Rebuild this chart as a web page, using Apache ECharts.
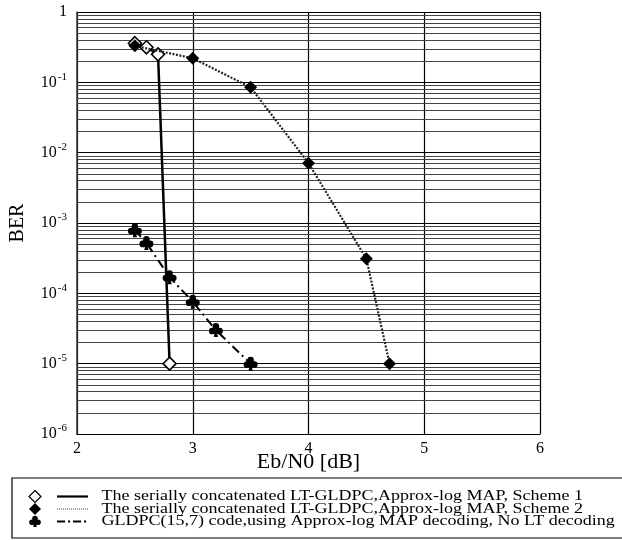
<!DOCTYPE html>
<html>
<head>
<meta charset="utf-8">
<script src="https://cdn.jsdelivr.net/npm/echarts@6/dist/echarts.min.js"></script>
<style>
  html, body { margin: 0; padding: 0; background: #fff; }
  #main { width: 622px; height: 540px; }
</style>
</head>
<body>
<div id="main"></div>
<script>
// data
const scheme1X = [2.5, 2.6, 2.7, 2.8]
const scheme1Y = [0.36, 0.315, 0.25, 1e-5]
const scheme2X = [2.5, 3.0, 3.5, 4.0, 4.5, 4.7]
const scheme2Y = [0.33, 0.22, 0.085, 0.0071, 3.1e-4, 1e-5]
const gldpcX = [2.5, 2.6, 2.8, 3.0, 3.2, 3.5]
const gldpcY = [7.9e-4, 5.2e-4, 1.7e-4, 7.6e-5, 3.0e-5, 1e-5]
const legendNames = [
    'The serially concatenated LT-GLDPC,Approx-log MAP, Scheme 1',
    'The serially concatenated LT-GLDPC,Approx-log MAP, Scheme 2',
    'GLDPC(15,7) code,using Approx-log MAP decoding, No LT decoding'
]
const decades = [-6, -5, -4, -3, -2, -1]
const minorSteps = [2, 3, 4, 5, 6, 7, 8, 9]

const FONT = '"Liberation Serif", "Times New Roman", serif'
const clubPath = 'path://M5.6,5.5a4.4,4.4 0 1,0 8.8,0a4.4,4.4 0 1,0 -8.8,0Z' +
    'M0.6,11.5a4.4,4.4 0 1,0 8.8,0a4.4,4.4 0 1,0 -8.8,0Z' +
    'M10.6,11.5a4.4,4.4 0 1,0 8.8,0a4.4,4.4 0 1,0 -8.8,0Z' +
    'M7,8L10,14L13,8Z' +
    'M9,11L7.2,19.5L12.8,19.5L11,11Z'

function zip(xs, ys) {
    return xs.map((x, i) => [x, ys[i]])
}

// minor horizontal grid lines (2..9 x 10^k), placed through the log axis
const minorLines = []
decades.forEach(e => {
    minorSteps.forEach(m => {
        minorLines.push({ yAxis: m * Math.pow(10, e) })
    })
})

// #region legend box
function legendGraphics() {
    const rowY = [496.5, 509, 521.5]
    const items = [
        { type: 'rect', shape: { x: 12, y: 478, width: 620, height: 60 },
          style: { fill: 'none', stroke: '#000', lineWidth: 1.2 } }
    ]
    // markers
    items.push({ type: 'polygon', shape: { points: [[35, rowY[0] - 6], [41, rowY[0]], [35, rowY[0] + 6], [29, rowY[0]]] },
        style: { fill: '#fff', stroke: '#000', lineWidth: 1.2 } })
    items.push({ type: 'polygon', shape: { points: [[35, rowY[1] - 6], [41, rowY[1]], [35, rowY[1] + 6], [29, rowY[1]]] },
        style: { fill: '#000' } })
    const cy = rowY[2]
    items.push({ type: 'circle', shape: { cx: 35, cy: cy - 3, r: 2.8 }, style: { fill: '#000' } })
    items.push({ type: 'circle', shape: { cx: 32, cy: cy + 0.8, r: 2.8 }, style: { fill: '#000' } })
    items.push({ type: 'circle', shape: { cx: 38, cy: cy + 0.8, r: 2.8 }, style: { fill: '#000' } })
    items.push({ type: 'polygon', shape: { points: [[33, cy - 1], [37, cy - 1], [35, cy + 2]] }, style: { fill: '#000' } })
    items.push({ type: 'polygon', shape: { points: [[34.4, cy], [33.2, cy + 5.5], [36.8, cy + 5.5], [35.6, cy]] },
        style: { fill: '#000' } })
    // line samples
    items.push({ type: 'line', shape: { x1: 57, y1: rowY[0], x2: 88, y2: rowY[0] },
        style: { stroke: '#000', lineWidth: 2.2 } })
    items.push({ type: 'line', shape: { x1: 57, y1: rowY[1], x2: 88, y2: rowY[1] },
        style: { stroke: '#444', lineWidth: 1, lineDash: [1, 1] } })
    items.push({ type: 'line', shape: { x1: 57, y1: rowY[2], x2: 88, y2: rowY[2] },
        style: { stroke: '#000', lineWidth: 2, lineDash: [8, 3, 2, 3] } })
    // texts
    legendNames.forEach((name, i) => {
        items.push({ type: 'text', x: 101.5, y: rowY[i], scaleX: 1.2,
            style: { text: name, font: '15px ' + FONT, fill: '#000', verticalAlign: 'middle', align: 'left' } })
    })
    return items
}
// #endregion

const chart = echarts.init(document.getElementById('main'), null, { renderer: 'canvas' })
const option = {
    animation: false,
    backgroundColor: '#fff',
    grid: { left: 75, right: 82, top: 12, bottom: 106 },
    xAxis: {
        type: 'value',
        min: 2,
        max: 6,
        interval: 1,
        name: 'Eb/N0 [dB]',
        nameLocation: 'middle',
        nameGap: 17,
        nameMoveOverlap: false,
        nameTextStyle: { fontFamily: FONT, fontSize: 22, color: '#000' },
        axisLine: { show: true, lineStyle: { color: '#000', width: 1.2 } },
        axisTick: { show: false },
        axisLabel: { fontFamily: FONT, fontSize: 16, color: '#000', margin: 7 },
        splitLine: { show: true, lineStyle: { color: '#000', width: 1.2 } }
    },
    yAxis: {
        type: 'log',
        logBase: 10,
        min: 1e-6,
        max: 1,
        name: 'BER',
        nameLocation: 'middle',
        nameGap: 49,
        nameMoveOverlap: false,
        nameTextStyle: { fontFamily: FONT, fontSize: 20, color: '#000' },
        axisLine: { show: true, lineStyle: { color: '#333', width: 1.5 } },
        axisTick: { show: false },
        axisLabel: {
            margin: 10,
            color: '#000',
            fontFamily: FONT,
            fontSize: 16,
            formatter: v => {
                const e = Math.round(Math.log10(v))
                return e === 0 ? '1' : '10{sup|' + e + '}'
            },
            rich: {
                sup: { fontFamily: FONT, fontSize: 11, verticalAlign: 'top', lineHeight: 22, padding: [0, 0, 8, 1] }
            }
        },
        splitLine: { show: true, lineStyle: { color: '#000', width: 1 } }
    },
    series: [
        {
            name: 'grid',
            type: 'line',
            data: [],
            silent: true,
            z: 1,
            markLine: {
                silent: true,
                z: 1,
                precision: 12,
                symbol: ['none', 'none'],
                label: { show: false },
                lineStyle: { color: '#444', width: 1, type: 'solid' },
                animation: false,
                data: minorLines
            }
        },
        {
            name: legendNames[0],
            type: 'line',
            data: zip(scheme1X, scheme1Y),
            symbol: 'diamond',
            symbolSize: 13,
            itemStyle: { color: '#fff', borderColor: '#000', borderWidth: 1.6 },
            lineStyle: { color: '#000', width: 2.5 },
            z: 3
        },
        {
            name: legendNames[1],
            type: 'line',
            data: zip(scheme2X, scheme2Y),
            symbol: 'diamond',
            symbolSize: 13,
            itemStyle: { color: '#000' },
            lineStyle: { color: '#222', width: 2.2, type: [2, 1.5] },
            z: 4
        },
        {
            name: legendNames[2],
            type: 'line',
            data: zip(gldpcX, gldpcY),
            symbol: clubPath,
            symbolSize: 14,
            itemStyle: { color: '#000' },
            lineStyle: { color: '#000', width: 2, type: [9, 4, 2, 4] },
            z: 3
        }
    ],
    graphic: legendGraphics()
}
chart.setOption(option)
</script>
</body>
</html>
